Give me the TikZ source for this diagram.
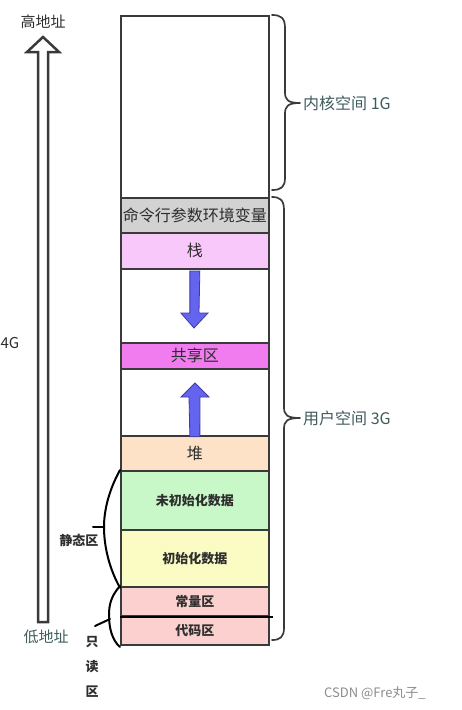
\documentclass[tikz,border=0pt]{standalone}
\usepackage{fontspec}
\setmainfont{Noto Sans CJK SC}
\definecolor{boxc}{HTML}{3A3A3A}
\definecolor{cmdc}{HTML}{D2D2D2}
\definecolor{stackc}{HTML}{F9C8FB}
\definecolor{sharec}{HTML}{F07CF0}
\definecolor{heapc}{HTML}{FDE2C8}
\definecolor{greenc}{HTML}{C8F7C8}
\definecolor{yellowc}{HTML}{FBFBC4}
\definecolor{pinkc}{HTML}{FDD0D0}
\definecolor{bluec}{HTML}{6464EE}
\definecolor{bluedk}{HTML}{3C3CA8}
\definecolor{labc}{HTML}{3F5A5C}
\definecolor{txtc}{HTML}{2E2E2E}
\tikzset{
  region/.style={draw=boxc, line width=1.7pt, minimum width=148pt, anchor=north west, inner sep=0pt, text=txtc},
  biglab/.style={font=\fontsize{16}{17}\selectfont},
  boldlab/.style={font=\fontsize{13}{14}\selectfont\bfseries},
  sidelab/.style={text=labc, font=\fontsize{16}{17}\selectfont, inner sep=0pt},
  bracec/.style={draw=boxc, line width=1.7pt, line cap=round, line join=round},
  lbrace/.style={draw=black, line width=2pt, line cap=round},
  bluearrow/.style={fill=bluec, draw=bluedk, line width=0.8pt, line join=miter}
}
\begin{document}
\begin{tikzpicture}[x=1pt,y=-1pt]
\useasboundingbox (0,0) rectangle (461,710);
% column
\node[region, minimum height=182pt] (kernel) at (120,15) {};
\node[region, fill=cmdc, minimum height=35pt, biglab] (cmd) at (120,197) {命令行参数环境变量};
\node[region, fill=stackc, minimum height=36pt, biglab] (stack) at (120,232) {栈};
\node[region, minimum height=74pt] (gapa) at (120,268) {};
\node[region, fill=sharec, minimum height=26pt, biglab] (share) at (120,342) {共享区};
\node[region, minimum height=67pt] (gapb) at (120,368) {};
\node[region, fill=heapc, minimum height=35pt, biglab] (heap) at (120,435) {堆};
\node[region, fill=greenc, minimum height=59pt, boldlab] (bss) at (120,470) {未初始化数据};
\node[region, fill=yellowc, minimum height=57pt, boldlab] (data) at (120,529) {初始化数据};
\node[region, fill=pinkc, minimum height=29pt, boldlab] (const) at (120,586) {常量区};
\node[region, fill=pinkc, minimum height=29pt, boldlab] (code) at (120,615) {代码区};
\draw[black, line width=2.4pt] (const.south west) -- ([xshift=3pt]const.south east);

% blue arrows
\draw[bluearrow] ([xshift=-5pt,yshift=-3pt]gapa.north) -- ++(0,42) -- ++(-9,0) -- (194,328) -- (208,313) -- ++(-9,0) -- ([xshift=5pt,yshift=-3pt]gapa.north) -- cycle;
\draw[bluearrow] ([xshift=-5pt]gapb.south) -- (189,397) -- (181,397) -- (195,383) -- (209,397) -- (200,397) -- ([xshift=5pt]gapb.south) -- cycle;

% left address arrow
\draw[boxc, line width=2.5pt, line join=miter] (38,622) -- (38,52) -- (27,52) -- (43,37) -- (59,52) -- (48,52) -- (48,622) -- cycle;
\node[text=txtc, font=\fontsize{15}{16}\selectfont, inner sep=0pt] (high) at (43,22) {高地址};
\node[text=txtc, font=\fontsize{15}{16}\selectfont, inner sep=0pt] (fourg) at (10,343) {4G};
\node[text=labc, font=\fontsize{15}{16}\selectfont, inner sep=0pt] (low) at (46,637) {低地址};

% right braces
\coordinate (kt) at (300,103);
\draw[bracec] (272,15) .. controls (281,15) and (285,18) .. (285,28) -- (285,92)
  .. controls (285,100) and (288,103) .. (kt)
  .. controls (288,103) and (285,106) .. (285,114) -- (285,178)
  .. controls (285,187) and (281,190) .. (272,190);
\node[sidelab, anchor=west] (klab) at (303,103) {内核空间 1G};
\coordinate (ut) at (300,418);
\draw[bracec] (272,197) .. controls (280,197) and (284,200) .. (284,210) -- (284,407)
  .. controls (284,415) and (287,418) .. (ut)
  .. controls (287,418) and (284,421) .. (284,429) -- (284,628)
  .. controls (284,637) and (280,640) .. (272,640);
\node[sidelab, anchor=west] (ulab) at (303,418) {用户空间 3G};

% left braces
\draw[lbrace] (bss.north west) .. controls (109,490) and (104,510) .. (104,527)
  .. controls (104,548) and (110,570) .. (data.south west);
\coordinate (st) at (93,527);
\draw[lbrace] (st) -- (104,527);
\node[boldlab, text=txtc, inner sep=0pt] (static) at (79,540) {静态区};
\draw[lbrace] (const.north west) .. controls (111,596) and (109,605) .. (109,615)
  .. controls (109,628) and (112,640) .. (120,647);
\coordinate (rt) at (95,626);
\draw[lbrace] (rt) -- (110,619);
\node[boldlab, text=txtc, inner sep=0pt] (ro1) at (92,642) {只};
\node[boldlab, text=txtc, inner sep=0pt] (ro2) at (92,667) {读};
\node[boldlab, text=txtc, inner sep=0pt] (ro3) at (92,692) {区};

% watermark
\node[text=black!45, font=\fontsize{13}{14}\selectfont, anchor=west, inner sep=0pt] (wm) at (324,693) {CSDN @Fre丸子\_};
\end{tikzpicture}
\end{document}
